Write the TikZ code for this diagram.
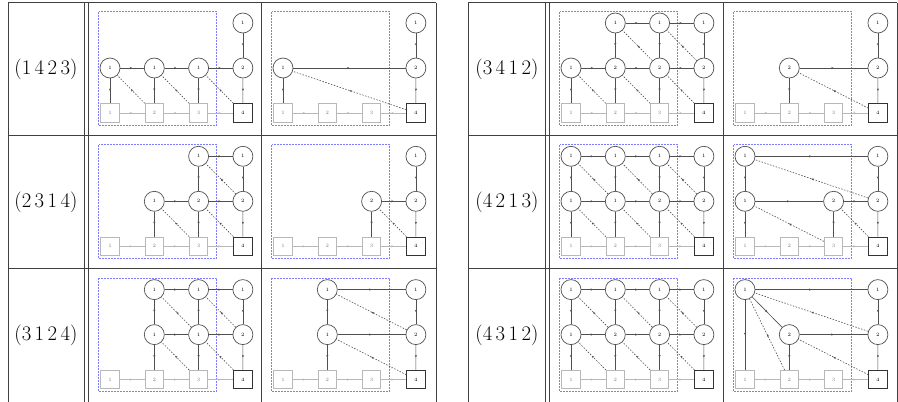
\documentclass[tikz,border=0pt]{standalone}
\usetikzlibrary{decorations.markings,arrows.meta}
\definecolor{cd}{HTML}{505050}
\definecolor{cl}{HTML}{B8B8B8}
\definecolor{bx}{HTML}{7C7CFF}
\tikzset{
 midarr/.style={postaction={decorate},decoration={markings,mark=at position 0.5 with {\arrow{Stealth[length=2.4pt,width=2.2pt]}}}},
 qc/.style={circle,draw=cd,line width=0.7pt,minimum size=20pt,inner sep=0pt,font=\fontsize{5}{6}\selectfont,fill=white},
 fl/.style={rectangle,draw=cl,line width=0.8pt,minimum size=18.5pt,inner sep=0pt,font=\fontsize{5}{6}\selectfont,text=gray,fill=white},
 fk/.style={fl,draw=black!80,text=black},
 se/.style={draw=cd,line width=0.65pt,midarr},
 de/.style={draw=cd,line width=0.6pt,dash pattern=on 1.5pt off 1.5pt,midarr},
 ge/.style={draw=cl,line width=0.7pt,midarr},
 bb/.style={draw=bx,line width=0.8pt,dash pattern=on 2pt off 1pt},
 tl/.style={draw=black!75,line width=0.6pt},
 lab/.style={font=\fontsize{20.5}{24}\selectfont}
}
\newcommand\qv[4]{\node[qc] (#1) at ({22+44.3*(#2-1)},{21+45*(#3-1)}) {#4};}
\newcommand\frz[1]{%
 \draw[bb] (10.5,9.5) rectangle (128.5,123);
 \node[fl] (#113) at (22,111) {1};
 \node[fl] (#123) at (66.3,111) {2};
 \node[fl] (#133) at (110.6,111) {3};
 \node[fk] (#143) at (154.9,111) {4};
 \draw[ge] (#113) -- (#123);
 \draw[ge] (#123) -- (#133);
 \draw[ge] (#133) -- (#143);}
\begin{document}
\begin{tikzpicture}[x=1pt,y=-1pt]
\useasboundingbox (0,0) rectangle (898,402);
% tables
\foreach \yy in {2.5,135.3,268.6}{\draw[tl] (8,\yy) -- (436,\yy); \draw[tl] (468,\yy) -- (897,\yy);}
\foreach \xx in {8,84,88,261,436,468,545,549,723,897}{\draw[tl] (\xx,2.5) -- (\xx,402);}
\node[lab] (t1) at (46,69) {$(1\,4\,2\,3)$};
\node[lab] (t2) at (46,202) {$(2\,3\,1\,4)$};
\node[lab] (t3) at (46,335) {$(3\,1\,2\,4)$};
\node[lab] (t4) at (507,69) {$(3\,4\,1\,2)$};
\node[lab] (t5) at (507,202) {$(4\,2\,1\,3)$};
\node[lab] (t6) at (507,335) {$(4\,3\,1\,2)$};
% ---- A : 1423 left
\begin{scope}[shift={(88,2)}]
\frz{A}
\qv{A41}{4}{1}{1}
\qv{A12}{1}{2}{1}\qv{A22}{2}{2}{1}\qv{A32}{3}{2}{1}\qv{A42}{4}{2}{2}
\draw[se] (A12)--(A22); \draw[se] (A22)--(A32); \draw[se] (A32)--(A42);
\draw[se] (A41)--(A42);
\draw[se] (A12)--(A13); \draw[se] (A22)--(A23); \draw[se] (A32)--(A33); \draw[se] (A42)--(A43);
\draw[de] (A23)--(A12); \draw[de] (A33)--(A22); \draw[de] (A43)--(A32);
\end{scope}
% ---- B : 1423 right
\begin{scope}[shift={(261,2)}]
\frz{B}
\qv{B41}{4}{1}{1}\qv{B12}{1}{2}{1}\qv{B42}{4}{2}{2}
\draw[se] (B12)--(B42); \draw[se] (B41)--(B42); \draw[se] (B42)--(B43); \draw[se] (B12)--(B13);
\draw[de] (B43)--(B12);
\end{scope}
% ---- C : 3412 left
\begin{scope}[shift={(549,2)}]
\frz{C}
\qv{C21}{2}{1}{1}\qv{C31}{3}{1}{1}\qv{C41}{4}{1}{1}
\qv{C12}{1}{2}{1}\qv{C22}{2}{2}{2}\qv{C32}{3}{2}{2}\qv{C42}{4}{2}{2}
\draw[se] (C21)--(C31); \draw[se] (C31)--(C41);
\draw[se] (C12)--(C22); \draw[se] (C22)--(C32); \draw[se] (C32)--(C42);
\draw[se] (C21)--(C22); \draw[se] (C31)--(C32); \draw[se] (C41)--(C42);
\draw[se] (C12)--(C13); \draw[se] (C22)--(C23); \draw[se] (C32)--(C33); \draw[se] (C42)--(C43);
\draw[de] (C32)--(C21); \draw[de] (C42)--(C31);
\draw[de] (C23)--(C12); \draw[de] (C33)--(C22); \draw[de] (C43)--(C32);
\end{scope}
% ---- D : 3412 right
\begin{scope}[shift={(723,2)}]
\frz{D}
\qv{D41}{4}{1}{1}\qv{D22}{2}{2}{2}\qv{D42}{4}{2}{2}
\draw[se] (D22)--(D42); \draw[se] (D41)--(D42); \draw[se] (D42)--(D43); \draw[se] (D22)--(D23);
\draw[de] (D43)--(D22);
\end{scope}
% ---- E : 2314 left
\begin{scope}[shift={(88,135.3)}]
\frz{E}
\qv{E31}{3}{1}{1}\qv{E41}{4}{1}{1}
\qv{E22}{2}{2}{1}\qv{E32}{3}{2}{2}\qv{E42}{4}{2}{2}
\draw[se] (E31)--(E41); \draw[se] (E22)--(E32); \draw[se] (E32)--(E42);
\draw[se] (E31)--(E32); \draw[se] (E41)--(E42);
\draw[se] (E22)--(E23); \draw[se] (E32)--(E33); \draw[se] (E42)--(E43);
\draw[de] (E42)--(E31); \draw[de] (E33)--(E22); \draw[de] (E43)--(E32);
\end{scope}
% ---- F : 2314 right
\begin{scope}[shift={(261,135.3)}]
\frz{F}
\qv{F41}{4}{1}{1}\qv{F32}{3}{2}{2}\qv{F42}{4}{2}{2}
\draw[se] (F32)--(F42); \draw[se] (F41)--(F42); \draw[se] (F42)--(F43); \draw[se] (F32)--(F33);
\draw[de] (F43)--(F32);
\end{scope}
% ---- G : 4213 left
\begin{scope}[shift={(549,135.3)}]
\frz{G}
\qv{G11}{1}{1}{1}\qv{G21}{2}{1}{1}\qv{G31}{3}{1}{1}\qv{G41}{4}{1}{1}
\qv{G12}{1}{2}{1}\qv{G22}{2}{2}{1}\qv{G32}{3}{2}{2}\qv{G42}{4}{2}{2}
\draw[se] (G11)--(G21); \draw[se] (G21)--(G31); \draw[se] (G31)--(G41);
\draw[se] (G12)--(G22); \draw[se] (G22)--(G32); \draw[se] (G32)--(G42);
\draw[se] (G11)--(G12); \draw[se] (G21)--(G22); \draw[se] (G31)--(G32); \draw[se] (G41)--(G42);
\draw[se] (G12)--(G13); \draw[se] (G22)--(G23); \draw[se] (G32)--(G33); \draw[se] (G42)--(G43);
\draw[de] (G22)--(G11); \draw[de] (G32)--(G21); \draw[de] (G42)--(G31);
\draw[de] (G23)--(G12); \draw[de] (G33)--(G22); \draw[de] (G43)--(G32);
\end{scope}
% ---- H : 4213 right
\begin{scope}[shift={(723,135.3)}]
\frz{H}
\qv{H11}{1}{1}{1}\qv{H41}{4}{1}{1}
\qv{H12}{1}{2}{1}\qv{H32}{3}{2}{2}\qv{H42}{4}{2}{2}
\draw[se] (H11)--(H41); \draw[se] (H11)--(H12);
\draw[se] (H12)--(H32); \draw[se] (H32)--(H42);
\draw[se] (H41)--(H42); \draw[se] (H42)--(H43); \draw[se] (H12)--(H13); \draw[se] (H32)--(H33);
\draw[de] (H42)--(H11); \draw[de] (H33)--(H12); \draw[de] (H43)--(H32);
\end{scope}
% ---- I : 3124 left
\begin{scope}[shift={(88,268.6)}]
\frz{I}
\qv{I21}{2}{1}{1}\qv{I31}{3}{1}{1}\qv{I41}{4}{1}{1}
\qv{I22}{2}{2}{1}\qv{I32}{3}{2}{1}\qv{I42}{4}{2}{2}
\draw[se] (I21)--(I31); \draw[se] (I31)--(I41);
\draw[se] (I22)--(I32); \draw[se] (I32)--(I42);
\draw[se] (I21)--(I22); \draw[se] (I31)--(I32); \draw[se] (I41)--(I42);
\draw[se] (I22)--(I23); \draw[se] (I32)--(I33); \draw[se] (I42)--(I43);
\draw[de] (I32)--(I21); \draw[de] (I42)--(I31); \draw[de] (I33)--(I22); \draw[de] (I43)--(I32);
\end{scope}
% ---- J : 3124 right
\begin{scope}[shift={(261,268.6)}]
\frz{J}
\qv{J21}{2}{1}{1}\qv{J41}{4}{1}{1}\qv{J22}{2}{2}{1}\qv{J42}{4}{2}{2}
\draw[se] (J21)--(J41); \draw[se] (J21)--(J22); \draw[se] (J22)--(J42);
\draw[se] (J41)--(J42); \draw[se] (J42)--(J43); \draw[se] (J22)--(J23);
\draw[de] (J42)--(J21); \draw[de] (J43)--(J22);
\end{scope}
% ---- K : 4312 left
\begin{scope}[shift={(549,268.6)}]
\frz{K}
\qv{K11}{1}{1}{1}\qv{K21}{2}{1}{1}\qv{K31}{3}{1}{1}\qv{K41}{4}{1}{1}
\qv{K12}{1}{2}{1}\qv{K22}{2}{2}{2}\qv{K32}{3}{2}{2}\qv{K42}{4}{2}{2}
\draw[se] (K11)--(K21); \draw[se] (K21)--(K31); \draw[se] (K31)--(K41);
\draw[se] (K12)--(K22); \draw[se] (K22)--(K32); \draw[se] (K32)--(K42);
\draw[se] (K11)--(K12); \draw[se] (K21)--(K22); \draw[se] (K31)--(K32); \draw[se] (K41)--(K42);
\draw[se] (K12)--(K13); \draw[se] (K22)--(K23); \draw[se] (K32)--(K33); \draw[se] (K42)--(K43);
\draw[de] (K22)--(K11); \draw[de] (K32)--(K21); \draw[de] (K42)--(K31);
\draw[de] (K23)--(K12); \draw[de] (K33)--(K22); \draw[de] (K43)--(K32);
\end{scope}
% ---- L : 4312 right
\begin{scope}[shift={(723,268.6)}]
\frz{L}
\qv{L11}{1}{1}{1}\qv{L41}{4}{1}{1}\qv{L22}{2}{2}{2}\qv{L42}{4}{2}{2}
\draw[se] (L11)--(L41); \draw[se] (L11)--(L22); \draw[se] (L11)--(L13);
\draw[se] (L22)--(L42); \draw[se] (L41)--(L42); \draw[se] (L42)--(L43); \draw[se] (L22)--(L23);
\draw[de] (L42)--(L11); \draw[de] (L23)--(L11); \draw[de] (L43)--(L22);
\end{scope}
\end{tikzpicture}
\end{document}
